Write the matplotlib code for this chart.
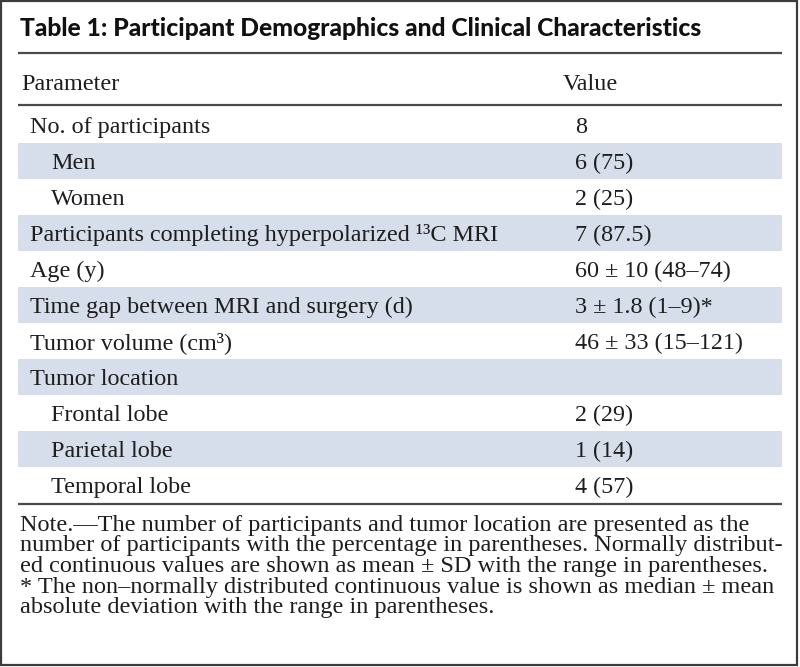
import matplotlib
matplotlib.use('Agg')
import matplotlib.pyplot as plt
from matplotlib.patches import Rectangle

title = "Table 1: Participant Demographics and Clinical Characteristics"
col_headers = ["Parameter", "Value"]

params = [
    "No. of participants",
    "Men",
    "Women",
    "Participants completing hyperpolarized ¹³C MRI",
    "Age (y)",
    "Time gap between MRI and surgery (d)",
    "Tumor volume (cm³)",
    "Tumor location",
    "Frontal lobe",
    "Parietal lobe",
    "Temporal lobe",
]
values = [
    "8",
    "6 (75)",
    "2 (25)",
    "7 (87.5)",
    "60 ± 10 (48–74)",
    "3 ± 1.8 (1–9)*",
    "46 ± 33 (15–121)",
    "",
    "2 (29)",
    "1 (14)",
    "4 (57)",
]
sub_rows = [1, 2, 8, 9, 10]   # indented under the row above

note_lines = [
    "Note.—The number of participants and tumor location are presented as the",
    "number of participants with the percentage in parentheses. Normally distribut-",
    "ed continuous values are shown as mean ± SD with the range in parentheses.",
    "* The non–normally distributed continuous value is shown as median ± mean",
    "absolute deviation with the range in parentheses.",
]

SERIF = "Liberation Serif"
TITLE_FONT = "Lato"
INK = "#1e1e1e"
SHADE = "#d5deea"
RULE = "#4a4a4a"

fig = plt.figure(figsize=(8, 6.67), dpi=100)
ax = fig.add_axes([0, 0, 1, 1])
ax.set_xlim(0, 800)
ax.set_ylim(667, 0)
ax.axis('off')
renderer = fig.canvas.get_renderer()


def fit_size(text, target_px, family, weight='normal', base=16.0):
    # font size that makes text roughly target_px wide
    t = fig.text(0, 0, text, fontsize=base, family=family, fontweight=weight)
    w = t.get_window_extent(renderer).width
    t.remove()
    return base * target_px / w


title_fs = fit_size(title, 683, TITLE_FONT, 'black')
body_fs = fit_size(params[3], 467, SERIF)
note_fs = fit_size(note_lines[1], 761, SERIF)

# outer frame
ax.add_patch(Rectangle((1, 1), 796, 664, fill=False, edgecolor="#3c3c3c", linewidth=1.6))

# title
ax.text(20, 36, title, fontsize=title_fs, family=TITLE_FONT, fontweight='black',
        color="#111111", va='baseline', ha='left')

# table geometry
left, right = 18, 782
row_top, row_h = 107, 36
n = len(params)
centers = [row_top + row_h * i + row_h / 2 for i in range(n)]

# alternating shading
shaded = [i for i in range(n) if i % 2 == 1]
ax.barh([centers[i] for i in shaded], right - left, left=left, height=row_h,
        color=SHADE, edgecolor='none', zorder=0)

ax.hlines([53, 105, row_top + row_h * n + 1], left, right, colors=RULE, linewidth=1.6)

# header
ax.text(21, 90, col_headers[0], fontsize=body_fs, family=SERIF, color=INK, va='baseline')
ax.text(563, 90, col_headers[1], fontsize=body_fs, family=SERIF, color=INK, va='baseline')

for i, (p, v) in enumerate(zip(params, values)):
    x = 51 if i in sub_rows else 30
    ax.text(x, centers[i] + 8, p, fontsize=body_fs, family=SERIF, color=INK, va='baseline')
    ax.text(575, centers[i] + 8, v, fontsize=body_fs, family=SERIF, color=INK, va='baseline')

# note
for k, line in enumerate(note_lines):
    ax.text(20, 531 + 20.5 * k, line, fontsize=note_fs, family=SERIF, color=INK, va='baseline')

plt.savefig("out.png", dpi=100)
plt.close()
